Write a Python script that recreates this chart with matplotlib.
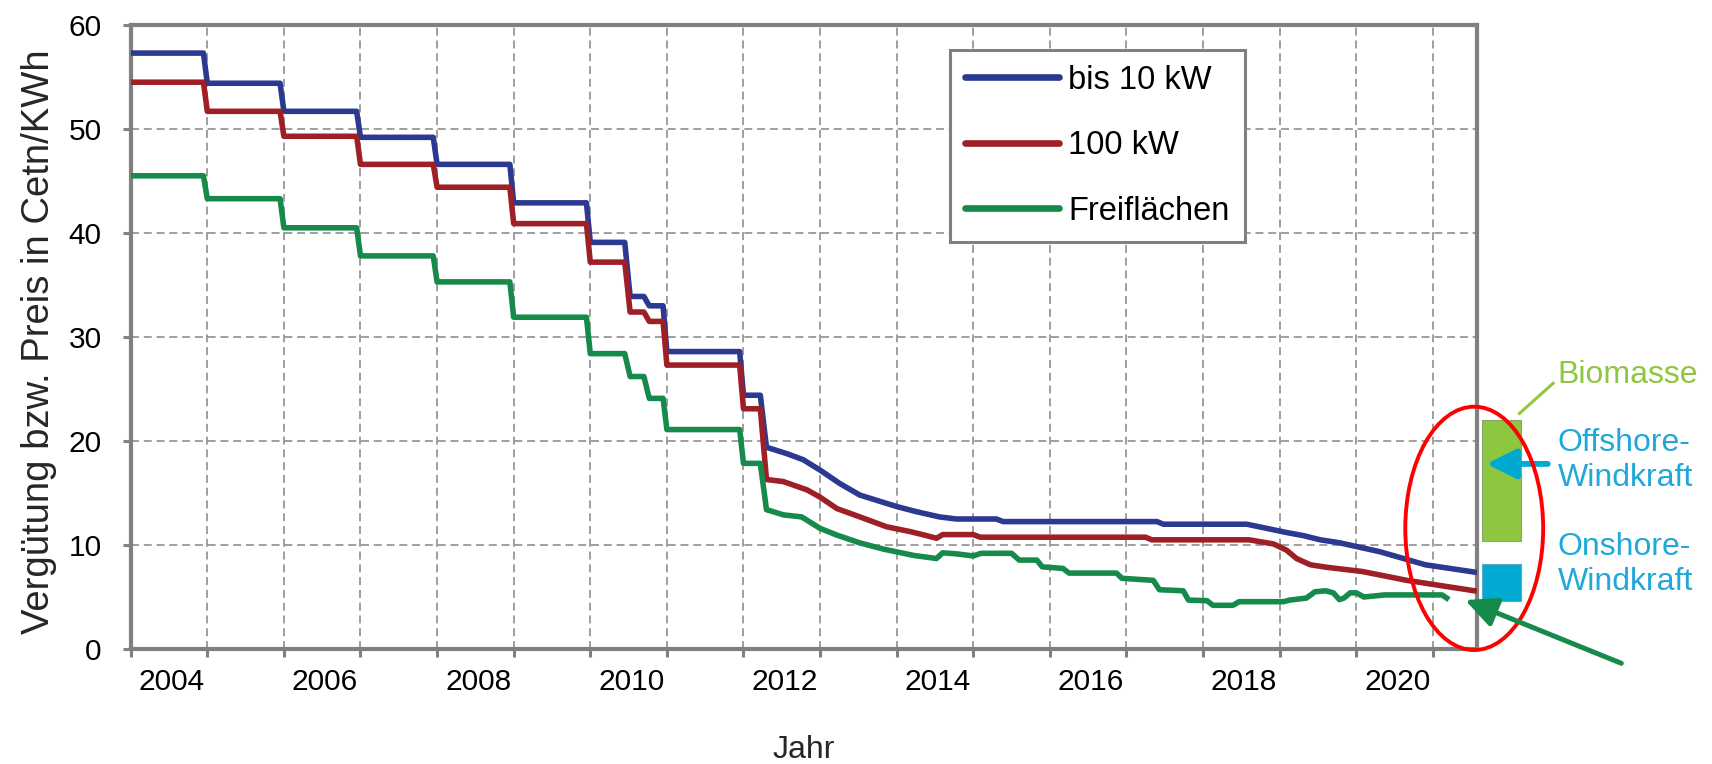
import matplotlib
matplotlib.use("Agg")
import matplotlib.pyplot as plt
from matplotlib.patches import Ellipse, Rectangle

plt.rcParams['font.family'] = ['Liberation Sans', 'DejaVu Sans']

# --- data (decimal year, ct/kWh) ---
years_blue = [2004.0, 2004.95, 2005.0, 2005.95, 2006.0, 2006.95, 2007.0, 2007.95, 2008.0, 2008.95,
              2009.0, 2009.95, 2010.0, 2010.45, 2010.52, 2010.7, 2010.77, 2010.95, 2011.0, 2011.95,
              2012.0, 2012.22, 2012.3, 2012.56, 2012.78, 2013.0, 2013.26, 2013.52, 2013.78, 2014.0,
              2014.26, 2014.56, 2014.78, 2015.3, 2015.39, 2017.4, 2017.48, 2018.57, 2018.83, 2019.09,
              2019.31, 2019.53, 2019.79, 2020.31, 2020.9, 2021.54]
price_blue = [57.3, 57.3, 54.4, 54.4, 51.7, 51.7, 49.2, 49.2, 46.6, 46.6,
              42.9, 42.9, 39.1, 39.1, 33.9, 33.9, 33.0, 33.0, 28.6, 28.6,
              24.4, 24.4, 19.4, 18.8, 18.2, 17.2, 15.9, 14.8, 14.2, 13.7,
              13.2, 12.7, 12.5, 12.5, 12.25, 12.25, 12.0, 12.0, 11.6, 11.2,
              10.9, 10.5, 10.2, 9.35, 8.1, 7.4]

years_red = [2004.0, 2004.95, 2005.0, 2005.95, 2006.0, 2006.95, 2007.0, 2007.95, 2008.0, 2008.95,
             2009.0, 2009.95, 2010.0, 2010.45, 2010.52, 2010.7, 2010.77, 2010.95, 2011.0, 2011.95,
             2012.0, 2012.22, 2012.3, 2012.52, 2012.83, 2013.0, 2013.22, 2013.52, 2013.87, 2014.17,
             2014.39, 2014.52, 2014.6, 2015.0, 2015.09, 2017.25, 2017.33, 2018.6, 2018.92, 2019.09,
             2019.22, 2019.4, 2019.62, 2020.08, 2020.66, 2021.54]
price_red = [54.5, 54.5, 51.7, 51.7, 49.3, 49.3, 46.6, 46.6, 44.4, 44.4,
             40.9, 40.9, 37.2, 37.2, 32.4, 32.4, 31.5, 31.5, 27.3, 27.3,
             23.1, 23.1, 16.3, 16.1, 15.3, 14.6, 13.5, 12.7, 11.75, 11.3,
             10.9, 10.65, 11.0, 11.0, 10.75, 10.75, 10.5, 10.5, 10.1, 9.5,
             8.7, 8.1, 7.85, 7.45, 6.6, 5.6]

years_green = [2004.0, 2004.95, 2005.0, 2005.95, 2006.0, 2006.95, 2007.0, 2007.95, 2008.0, 2008.95,
               2009.0, 2009.95, 2010.0, 2010.45, 2010.52, 2010.7, 2010.77, 2010.95, 2011.0, 2011.95,
               2012.0, 2012.22, 2012.3, 2012.52, 2012.76, 2013.0, 2013.22, 2013.52, 2013.83, 2014.22,
               2014.52, 2014.6, 2014.78, 2015.0, 2015.1, 2015.5, 2015.6, 2015.83, 2015.9, 2016.17,
               2016.25, 2016.87, 2016.94, 2017.35, 2017.43, 2017.74, 2017.81, 2018.05, 2018.13, 2018.39,
               2018.47, 2019.05, 2019.13, 2019.35, 2019.46, 2019.6, 2019.7, 2019.78, 2019.84, 2019.92,
               2020.0, 2020.1, 2020.37, 2021.12, 2021.18]
price_green = [45.5, 45.5, 43.3, 43.3, 40.5, 40.5, 37.8, 37.8, 35.3, 35.3,
               31.9, 31.9, 28.4, 28.4, 26.2, 26.2, 24.1, 24.1, 21.1, 21.1,
               17.85, 17.85, 13.4, 12.9, 12.7, 11.6, 10.95, 10.2, 9.6, 9.0,
               8.7, 9.25, 9.15, 8.95, 9.2, 9.2, 8.55, 8.55, 7.9, 7.75,
               7.3, 7.3, 6.8, 6.6, 5.7, 5.6, 4.7, 4.65, 4.2, 4.2,
               4.55, 4.55, 4.7, 4.9, 5.5, 5.6, 5.4, 4.75, 4.9, 5.4,
               5.4, 5.0, 5.2, 5.2, 4.9]

series_labels = ["bis 10 kW", "100 kW", "Freiflächen"]
series_colors = ["#2B3990", "#9E1F26", "#168A4B"]

label_years = [2004, 2006, 2008, 2010, 2012, 2014, 2016, 2018, 2020]
grid_years = list(range(2004, 2022))

biomasse_range = (10.4, 22.0)
onshore_range = (4.65, 8.2)
offshore_value = 17.8

grey = "#808080"

fig = plt.figure(figsize=(17.12, 7.64), dpi=100)
ax = fig.add_axes([0.07634, 0.15052, 0.78621, 0.81675])

for xs, ys, lab, col in zip([years_blue, years_red, years_green],
                            [price_blue, price_red, price_green],
                            series_labels, series_colors):
    ax.plot(xs, ys, color=col, lw=4.0, label=lab, solid_joinstyle='round', zorder=3)

ax.set_xlim(2004.0, 2021.572)
ax.set_ylim(0, 60)

# year gridlines at Jan 1st, labels centred in the year
ax.set_xticks(grid_years)
ax.set_xticklabels([])
ax.set_xticks([y + 0.535 for y in label_years], minor=True)
ax.set_xticklabels([str(y) for y in label_years], minor=True)
ax.set_yticks(range(0, 61, 10))
ax.tick_params(axis='x', which='major', length=6, width=2.2, color=grey, direction='out')
ax.tick_params(axis='x', which='minor', length=0, pad=14, labelsize=21.5)
ax.tick_params(axis='y', length=6, width=2.2, color=grey, direction='out', pad=15, labelsize=21.5)

ax.grid(True, which='major', color='#8a8a8a', linestyle=(0, (5, 3)), linewidth=1.15)
ax.set_axisbelow(True)
for sp in ax.spines.values():
    sp.set_color(grey)
    sp.set_linewidth(3)

leg = ax.legend(loc='upper left', bbox_to_anchor=(0.6087, 0.96), borderaxespad=0,
                fontsize=23.5, frameon=True, fancybox=False, framealpha=1, edgecolor=grey,
                handlelength=2.9, handletextpad=0.28, labelspacing=1.06, borderpad=0.45)
leg.get_frame().set_linewidth(2.2)
for h in leg.get_lines():
    h.set_linewidth(4.8)
    h.set_solid_capstyle('round')

# right-hand comparison markers
ax.add_patch(Rectangle((2021.645, biomasse_range[0]), 0.505, biomasse_range[1] - biomasse_range[0],
                       facecolor='#8DC63F', edgecolor='#8aa66a', lw=0.8, clip_on=False, zorder=4))
ax.add_patch(Rectangle((2021.645, onshore_range[0]), 0.505, onshore_range[1] - onshore_range[0],
                       facecolor='#00AAD2', edgecolor='#5aaac8', lw=0.8, clip_on=False, zorder=4))
ax.annotate('', xy=(2021.70, offshore_value), xytext=(2022.5, offshore_value),
            arrowprops=dict(arrowstyle='-|>,head_length=0.9,head_width=0.45', color='#00A8D2',
                            lw=4.2, mutation_scale=20, shrinkA=0, shrinkB=0),
            annotation_clip=False, zorder=5)
ax.plot([2022.13, 2022.57], [22.65, 25.55], color='#92C83E', lw=2.2, clip_on=False)

ax.text(2022.63, 26.35, "Biomasse", color='#8DC63F', fontsize=23, ha='left', va='center')
ax.text(2022.63, 18.1, "Offshore-\nWindkraft", color='#1FA8D8', fontsize=23, ha='left',
        va='center', linespacing=1.2)
ax.text(2022.63, 8.1, "Onshore-\nWindkraft", color='#1FA8D8', fontsize=23, ha='left',
        va='center', linespacing=1.2)

ax.add_patch(Ellipse((2021.54, 11.6), width=1.8, height=23.4, fill=False, edgecolor='#FF0000',
                     lw=2.8, clip_on=False, zorder=6))
ax.annotate('', xy=(2021.42, 4.71), xytext=(2023.46, -1.375),
            arrowprops=dict(arrowstyle='-|>,head_length=0.95,head_width=0.45', color='#168A4B',
                            lw=3.6, mutation_scale=20, shrinkA=0, shrinkB=0),
            annotation_clip=False, zorder=6)

fig.text(0.0228, 0.553, "Vergütung bzw. Preis in Cetn/KWh", rotation=90, fontsize=27.5,
         ha='center', va='center', color='#262626')
fig.text(0.4695, 0.018, "Jahr", fontsize=23, ha='center', va='center', color='#262626')

fig.savefig('out.png', dpi=100)
